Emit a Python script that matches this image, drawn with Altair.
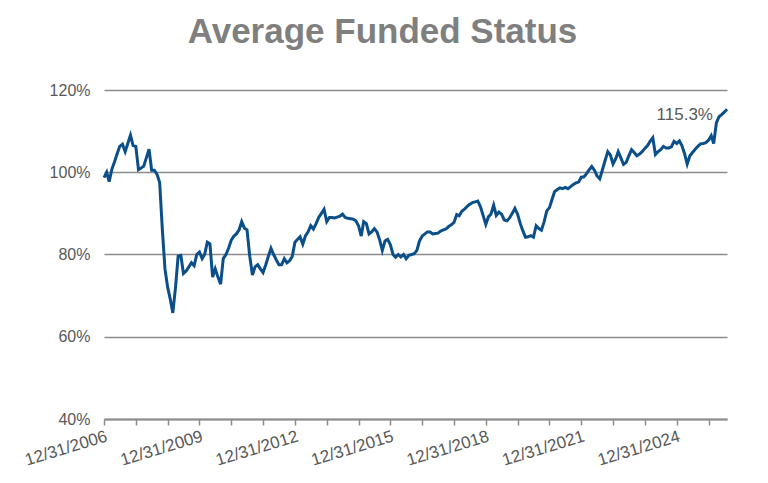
import altair as alt
import pandas as pd

# month-end average funded status (%), 12/31/2006 onward
funded = [
    98.7, 100.0, 97.7, 100.7, 102.5, 104.5, 106.3, 106.8, 105.0, 107.0, 109.0, 106.5,
    106.3, 100.6, 101.0, 101.5, 103.5, 105.6, 100.5, 100.5, 99.5, 97.5, 86.0, 76.5,
    72.0, 69.0, 65.8, 72.0, 79.6, 79.8, 75.4, 76.0, 77.0, 78.0, 77.3, 80.0,
    80.6, 79.0, 80.0, 83.0, 82.6, 74.5, 76.5, 74.5, 72.8, 79.0, 80.0, 81.5,
    83.5, 84.5, 85.0, 86.0, 88.0, 86.4, 86.0, 79.6, 75.0, 77.0, 77.5, 76.5,
    75.6, 77.5, 79.5, 81.5, 80.0, 78.7, 77.5, 77.5, 79.0, 78.0, 78.5, 79.5,
    83.0, 83.7, 84.3, 82.5, 84.5, 85.5, 87.0, 86.2, 87.5, 89.0, 90.0, 91.0,
    88.0, 89.0, 89.0, 88.9, 89.1, 89.3, 89.8, 89.0, 88.8, 88.7, 88.6, 88.2,
    87.0, 84.5, 88.0, 87.5, 85.0, 85.5, 86.3, 85.5, 83.5, 81.0, 83.3, 83.7,
    82.4, 80.0, 79.3, 80.0, 79.4, 80.0, 79.0, 79.8, 80.0, 80.2, 81.0, 83.3,
    84.5, 85.0, 85.5, 85.5, 85.0, 85.1, 85.2, 85.7, 86.0, 86.2, 86.8, 87.2,
    87.8, 89.7, 89.4, 90.5, 91.0, 91.7, 92.2, 92.6, 92.8, 93.0, 91.6, 89.5,
    87.3, 89.2, 89.8, 92.0, 89.5, 90.3, 89.8, 88.4, 88.2, 88.9, 90.0, 91.2,
    89.8, 87.5, 85.8, 84.2, 84.3, 84.6, 84.2, 87.0, 86.3, 85.9, 88.0, 90.6,
    91.4, 93.5, 95.3, 95.8, 96.2, 96.0, 96.3, 96.0, 96.5, 97.0, 97.4, 97.6,
    98.8, 98.9, 99.6, 100.6, 101.4, 100.5, 99.1, 98.4, 100.6, 102.8, 105.0, 104.2,
    102.0, 103.3, 105.0, 103.5, 101.9, 102.4, 104.0, 105.5, 104.8, 104.0, 104.4, 105.0,
    105.8, 106.5, 107.5, 108.4, 104.3, 105.0, 105.5, 106.3, 105.9, 105.9, 106.2, 107.5,
    107.0, 107.6, 106.5, 104.5, 102.0, 104.0, 104.8, 105.6, 106.3, 106.9, 107.0, 107.2,
    107.8, 108.9, 107.0, 112.0, 113.5, 114.0, 114.6, 115.3,
]
tick_years = list(range(2006, 2026))
label_years = list(range(2006, 2026, 3))
y_ticks = [0.4, 0.6, 0.8, 1.0, 1.2]

dates = pd.date_range("2006-12-31", periods=len(funded), freq=pd.offsets.MonthEnd())
df = pd.DataFrame({"date": dates, "funded": [v / 100 for v in funded]})
last = df.tail(1).copy()
last["label"] = last["funded"].map(lambda v: f"{v:.1%}")

FONT = "Liberation Sans"
GRID = "#8c8c8c"

# yearly ticks, no labels
line = alt.Chart(df).mark_line(color="#0b4f8a", strokeWidth=3).encode(
    x=alt.X(
        "date:T",
        title=None,
        scale=alt.Scale(nice=False),
        axis=alt.Axis(
            values=[alt.DateTime(year=y, month=12, date=31) for y in tick_years],
            labels=False,
            grid=False,
            domainColor=GRID,
            domainWidth=2,
            tickColor=GRID,
            tickWidth=1.5,
            tickSize=6,
        ),
    ),
    y=alt.Y(
        "funded:Q",
        title=None,
        scale=alt.Scale(domain=[0.4, 1.2], nice=False, zero=False),
        axis=alt.Axis(
            values=y_ticks,
            format=".0%",
            domain=False,
            ticks=False,
            gridColor=GRID,
            gridWidth=1.5,
            labelFontSize=16,
            labelColor="#595959",
            labelPadding=14,
        ),
    ),
)

# end-value note; its x axis carries the labels every third year
note = alt.Chart(last).mark_text(
    align="right", baseline="middle", dx=-14, dy=6, fontSize=17, color="#595959", font=FONT
).encode(
    x=alt.X(
        "date:T",
        title=None,
        axis=alt.Axis(
            orient="bottom",
            values=[alt.DateTime(year=y, month=12, date=31) for y in label_years],
            format="%m/%d/%Y",
            labelAngle=-17,
            labelAlign="right",
            labelBaseline="top",
            labelFontSize=17,
            labelColor="#595959",
            labelPadding=9,
            labelOverlap=False,
            labelFlush=False,
            labelBound=False,
            grid=False,
            domain=False,
            ticks=False,
        ),
    ),
    y="funded:Q",
    text="label:N",
)

chart = (line + note).resolve_axis(x="independent").properties(
    width=623,
    height=329,
    autosize=alt.AutoSizeParams(type="none"),
    padding={"left": 96, "top": 82, "right": 33, "bottom": 56},
    title=alt.TitleParams(
        "Average Funded Status",
        fontSize=35,
        fontWeight="bold",
        color="#7f7f7f",
        font=FONT,
        anchor="middle",
        frame="group",
        baseline="alphabetic",
        offset=4,
        dx=-33,
    ),
).configure(font=FONT).configure_view(stroke=None)

chart.save("out.html", embed_options={"renderer": "svg", "actions": False})
